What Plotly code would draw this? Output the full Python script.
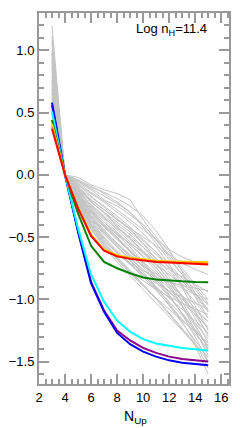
import plotly.graph_objects as go

n_up = [3, 4, 5, 6, 7, 8, 9, 10, 11, 12, 13, 14, 15]

gray_lines = [
    [1.20, 0, -0.02, -0.08, -0.12, -0.15, -0.20, -0.36, -0.50, -0.62, -0.75, -0.88, -1.00],
    [1.12, 0, -0.05, -0.10, -0.14, -0.19, -0.25, -0.33, -0.45, -0.60, -0.78, -0.95, -1.10],
    [1.05, 0, -0.06, -0.12, -0.20, -0.25, -0.32, -0.40, -0.52, -0.66, -0.80, -0.98, -1.15],
    [1.00, 0, -0.08, -0.15, -0.22, -0.30, -0.38, -0.47, -0.58, -0.72, -0.88, -1.05, -1.25],
    [0.98, 0, -0.10, -0.18, -0.25, -0.33, -0.42, -0.52, -0.62, -0.75, -0.90, -1.10, -1.30],
    [0.95, 0, -0.12, -0.20, -0.28, -0.36, -0.44, -0.55, -0.68, -0.82, -0.98, -1.15, -1.35],
    [0.92, 0, -0.09, -0.22, -0.30, -0.40, -0.48, -0.58, -0.70, -0.85, -1.02, -1.20, -1.40],
    [0.90, 0, -0.14, -0.24, -0.33, -0.42, -0.52, -0.62, -0.74, -0.88, -1.05, -1.25, -1.45],
    [0.88, 0, -0.11, -0.26, -0.36, -0.46, -0.56, -0.66, -0.77, -0.90, -1.05, -1.22, -1.38],
    [0.85, 0, -0.15, -0.28, -0.38, -0.48, -0.58, -0.70, -0.82, -0.96, -1.12, -1.30, -1.50],
    [0.83, 0, -0.13, -0.25, -0.35, -0.43, -0.50, -0.58, -0.67, -0.78, -0.90, -1.02, -1.15],
    [0.80, 0, -0.16, -0.30, -0.41, -0.51, -0.61, -0.72, -0.84, -0.97, -1.11, -1.26, -1.42],
    [0.78, 0, -0.12, -0.22, -0.30, -0.38, -0.46, -0.55, -0.64, -0.74, -0.85, -0.97, -1.10],
    [0.76, 0, -0.17, -0.32, -0.44, -0.55, -0.66, -0.78, -0.90, -1.03, -1.18, -1.35, -1.55],
    [0.74, 0, -0.14, -0.27, -0.38, -0.47, -0.56, -0.65, -0.75, -0.86, -0.98, -1.10, -1.24],
    [0.72, 0, -0.18, -0.31, -0.42, -0.52, -0.61, -0.70, -0.79, -0.88, -0.97, -1.07, -1.18],
    [0.70, 0, -0.15, -0.28, -0.40, -0.50, -0.60, -0.71, -0.82, -0.94, -1.06, -1.19, -1.32],
    [0.68, 0, -0.19, -0.34, -0.46, -0.57, -0.68, -0.80, -0.92, -1.05, -1.19, -1.33, -1.47],
    [0.66, 0, -0.13, -0.24, -0.34, -0.44, -0.54, -0.63, -0.72, -0.80, -0.88, -0.96, -1.04],
    [0.65, 0, -0.20, -0.36, -0.48, -0.58, -0.67, -0.76, -0.85, -0.94, -1.03, -1.12, -1.22],
    [0.63, 0, -0.17, -0.30, -0.41, -0.51, -0.62, -0.74, -0.86, -0.98, -1.11, -1.24, -1.38],
    [0.62, 0, -0.21, -0.38, -0.51, -0.62, -0.72, -0.82, -0.93, -1.04, -1.16, -1.28, -1.40],
    [0.60, 0, -0.16, -0.29, -0.40, -0.48, -0.55, -0.62, -0.69, -0.76, -0.82, -0.88, -0.94],
    [0.58, 0, -0.22, -0.40, -0.54, -0.66, -0.77, -0.88, -0.99, -1.11, -1.23, -1.36, -1.50],
    [0.56, 0, -0.18, -0.33, -0.45, -0.55, -0.64, -0.73, -0.82, -0.91, -1.00, -1.09, -1.18],
    [0.55, 0, -0.20, -0.35, -0.47, -0.58, -0.69, -0.80, -0.91, -1.02, -1.13, -1.25, -1.37],
    [0.53, 0, -0.23, -0.41, -0.55, -0.67, -0.78, -0.89, -1.00, -1.12, -1.24, -1.37, -1.60],
    [0.52, 0, -0.19, -0.34, -0.46, -0.56, -0.65, -0.73, -0.80, -0.86, -0.91, -0.96, -1.00],
    [0.50, 0, -0.21, -0.37, -0.50, -0.61, -0.71, -0.81, -0.90, -0.99, -1.08, -1.17, -1.27],
    [0.48, 0, -0.24, -0.42, -0.56, -0.68, -0.79, -0.89, -0.99, -1.08, -1.17, -1.26, -1.35],
    [0.46, 0, -0.22, -0.39, -0.52, -0.63, -0.72, -0.80, -0.87, -0.93, -0.98, -1.03, -1.08],
    [0.44, 0, -0.25, -0.43, -0.57, -0.68, -0.77, -0.85, -0.92, -0.98, -1.03, -1.08, -1.12],
    [0.42, 0, -0.23, -0.40, -0.53, -0.63, -0.71, -0.77, -0.82, -0.86, -0.89, -0.91, -0.93],
    [0.40, 0, -0.26, -0.44, -0.58, -0.70, -0.81, -0.92, -1.03, -1.14, -1.25, -1.36, -1.46],
    [0.87, 0, -0.05, -0.11, -0.17, -0.23, -0.30, -0.42, -0.55, -0.68, -0.80, -0.92, -1.05],
    [0.93, 0, -0.07, -0.14, -0.21, -0.28, -0.36, -0.44, -0.52, -0.60, -0.66, -0.70, -0.72],
    [0.75, 0, -0.10, -0.20, -0.28, -0.36, -0.43, -0.50, -0.57, -0.64, -0.71, -0.76, -0.80],
    [0.69, 0, -0.11, -0.21, -0.31, -0.41, -0.51, -0.61, -0.72, -0.84, -0.97, -1.12, -1.28],
    [1.08, 0, -0.04, -0.09, -0.15, -0.22, -0.30, -0.40, -0.52, -0.64, -0.77, -0.90, -1.03],
    [0.97, 0, -0.08, -0.17, -0.26, -0.35, -0.44, -0.53, -0.62, -0.72, -0.83, -0.95, -1.08],
]

purple_vals = [0.56, 0, -0.45, -0.86, -1.09, -1.25, -1.33, -1.39, -1.43, -1.46, -1.48, -1.49, -1.50]
blue_vals = [0.58, 0, -0.46, -0.87, -1.10, -1.27, -1.36, -1.42, -1.46, -1.49, -1.51, -1.52, -1.53]
cyan_vals = [0.51, 0, -0.43, -0.80, -1.02, -1.17, -1.26, -1.32, -1.355, -1.375, -1.39, -1.40, -1.41]
green_vals = [0.44, 0, -0.31, -0.57, -0.70, -0.75, -0.79, -0.825, -0.84, -0.85, -0.855, -0.86, -0.862]
yellow_vals = [0.41, 0, -0.26, -0.48, -0.60, -0.645, -0.665, -0.68, -0.69, -0.695, -0.70, -0.70, -0.70]
orange_vals = [0.39, 0, -0.265, -0.485, -0.605, -0.65, -0.67, -0.685, -0.695, -0.70, -0.705, -0.707, -0.71]
red_vals = [0.37, 0, -0.27, -0.49, -0.61, -0.655, -0.675, -0.69, -0.70, -0.705, -0.71, -0.715, -0.72]

fig = go.Figure()
for g in gray_lines:
    fig.add_trace(go.Scatter(x=n_up, y=g, mode="lines",
                             line=dict(color="#c4c4c4", width=1), showlegend=False))

colored = [
    (purple_vals, "#8B008B"),
    (blue_vals, "#0000FF"),
    (cyan_vals, "#00FFFF"),
    (green_vals, "#008000"),
    (yellow_vals, "#FFD700"),
    (orange_vals, "#FFA500"),
    (red_vals, "#FF0000"),
]
for vals, col in colored:
    fig.add_trace(go.Scatter(x=n_up, y=vals, mode="lines",
                             line=dict(color=col, width=2), showlegend=False))

axis_common = dict(
    showline=True, linecolor="#999999", linewidth=2, mirror="allticks",
    ticks="inside", tickcolor="#999999", tickwidth=1.5, ticklen=10,
    showgrid=False, zeroline=False,
    tickfont=dict(family="Liberation Sans, Arial, sans-serif", size=13, color="black"),
)

fig.update_xaxes(range=[2, 16.6], tick0=2, dtick=2,
                 minor=dict(ticks="inside", ticklen=5, dtick=0.5, tickcolor="#999999", tickwidth=1.5),
                 **axis_common)
fig.update_yaxes(range=[-1.68, 1.30], tick0=0, dtick=0.5, tickformat=".1f",
                 minor=dict(ticks="inside", ticklen=5, dtick=0.1, tickcolor="#999999", tickwidth=1.5),
                 **axis_common)

fig.add_annotation(x=0.695, y=0.955, xref="paper", yref="paper",
                   xanchor="center", yanchor="middle",
                   text="Log n<sub>H</sub>=11.4", showarrow=False,
                   font=dict(family="Liberation Sans, Arial, sans-serif", size=13, color="black"))
fig.add_annotation(x=0.508, y=-0.058, xref="paper", yref="paper",
                   xanchor="center", yanchor="top",
                   text="N<sub>Up</sub>", showarrow=False,
                   font=dict(family="Liberation Sans, Arial, sans-serif", size=14, color="black"))

fig.update_layout(width=240, height=428,
                  margin=dict(l=36, r=9, t=13, b=44),
                  paper_bgcolor="white", plot_bgcolor="white")

fig.write_html("out.html", config={"displayModeBar": False},
               post_script="document.body.style.margin='0';document.body.style.padding='0';")
